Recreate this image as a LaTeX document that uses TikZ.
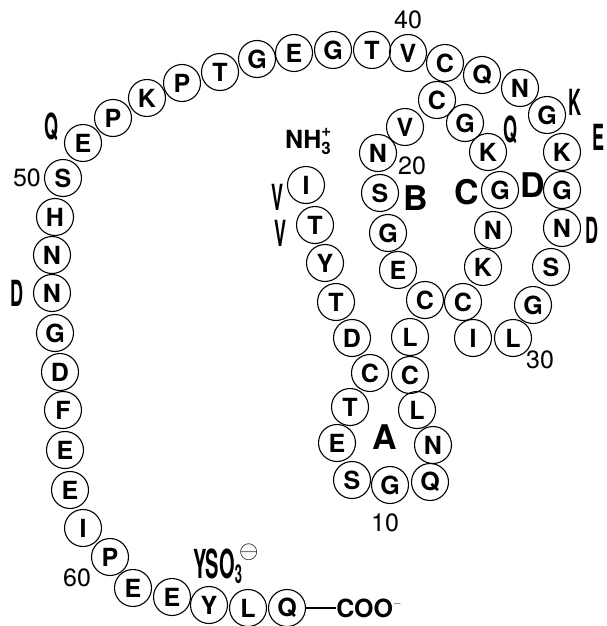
\documentclass[tikz,border=0pt]{standalone}
\usepackage{fontspec}
\setmainfont{TeX Gyre Heros}
\usepackage{graphicx}
\usepackage{tikz}
\usetikzlibrary{positioning}
\newcommand{\condensed}[1]{\scalebox{0.5}[1]{#1}}

\begin{document}
\begin{tikzpicture}[
  x=1pt, y=-1pt,
  res/.style={draw, circle, line width=1.1pt, minimum size=37pt, inner sep=0pt,
              font=\fontsize{25}{25}\selectfont\bfseries},
  num/.style={font=\fontsize{25}{25}\selectfont, inner sep=0pt},
  loopname/.style={font=\fontsize{34}{34}\selectfont\bfseries, inner sep=0pt},
  variant/.style={font=\fontsize{36}{36}\selectfont\bfseries, inner sep=0pt},
  term/.style={font=\fontsize{25}{25}\selectfont\bfseries, inner sep=0pt},
  bond/.style={line width=1.1pt}
]
\useasboundingbox (0,0) rectangle (607,626);

% loop A
\node[res] (i1) at (306,185) {I};
\node[res] (t2) at (315,225) {T};
\node[res] (y3) at (325,263) {Y};
\node[res] (t4) at (336,302) {T};
\node[res] (d5) at (352,338) {D};
\node[res] (c6) at (370,373) {C};
\node[res] (t7) at (350,407) {T};
\node[res] (e8) at (337,443) {E};
\node[res] (s9) at (352,480) {S};
\node[res] (g10) at (390,485) {G};
\node[res] (q11) at (430,482) {Q};
\node[res] (n12) at (433,445) {N};
\node[res] (l13) at (417,410) {L};
\node[res] (c14) at (410,375) {C};
\node[res] (l15) at (410,337) {L};
\node[res] (c16) at (425,300) {C};
% loop B
\node[res] (e17) at (398,270) {E};
\node[res] (g18) at (388,233) {G};
\node[res] (s19) at (380,193) {S};
\node[res] (n20) at (378,153) {N};
\node[res] (v21) at (405,127) {V};
\node[res] (c22) at (437,100) {C};
% loop C
\node[res] (g23) at (465,123) {G};
\node[res] (k24) at (488,152) {K};
\node[res] (g25) at (500,190) {G};
\node[res] (n26) at (493,230) {N};
\node[res] (k27) at (483,267) {K};
\node[res] (c28) at (463,302) {C};
% loop D
\node[res] (i29) at (473,338) {I};
\node[res] (l30) at (513,338) {L};
\node[res] (g31) at (533,305) {G};
\node[res] (s32) at (551,267) {S};
\node[res] (n33) at (562,228) {N};
\node[res] (g34) at (562,190) {G};
\node[res] (k35) at (562,152) {K};
\node[res] (g36) at (547,115) {G};
\node[res] (n37) at (520,88) {N};
\node[res] (q38) at (482,75) {Q};
\node[res] (c39) at (445,63) {C};
% tail
\node[res] (v40) at (408,53) {V};
\node[res] (t41) at (372,50) {T};
\node[res] (g42) at (333,50) {G};
\node[res] (e43) at (294,53) {E};
\node[res] (g44) at (257,59) {G};
\node[res] (t45) at (220,72) {T};
\node[res] (p46) at (182,83) {P};
\node[res] (k47) at (147,98) {K};
\node[res] (p48) at (113,118) {P};
\node[res] (e49) at (83,143) {E};
\node[res] (s50) at (63,178) {S};
\node[res] (h51) at (55,217) {H};
\node[res] (n52) at (52,255) {N};
\node[res] (n53) at (52,293) {N};
\node[res] (g54) at (55,333) {G};
\node[res] (d55) at (60,372) {D};
\node[res] (f56) at (63,410) {F};
\node[res] (e57) at (65,450) {E};
\node[res] (e58) at (70,490) {E};
\node[res] (i59) at (83,528) {I};
\node[res] (p60) at (110,557) {P};
\node[res] (e61) at (133,588) {E};
\node[res] (e62) at (172,597) {E};
\node[res] (y63) at (209,605) {Y};
\node[res] (l64) at (248,608) {L};
\node[res] (q65) at (287,608) {Q};

% termini
\node[term, anchor=base west] (nterm) at (285,148)
  {NH\rlap{\raisebox{-6pt}{\fontsize{17}{17}\selectfont 3}}\raisebox{12pt}{\fontsize{17}{17}\selectfont +}};
\node[term, right=30pt of q65] (cterm) {COO\raisebox{11pt}{\fontsize{11}{11}\selectfont $-$}};
\draw[bond] (q65) -- (cterm);
\node[variant, anchor=base west] (sulfo) at (193,578)
  {\condensed{\fontsize{40}{40}\selectfont YSO\raisebox{-5pt}{\fontsize{26}{26}\selectfont 3}}\hspace{-3pt}\raisebox{20pt}{\fontsize{24}{24}\selectfont$\ominus$}};

% loop names
\node[loopname] (la) at (385,437) {A};
\node[loopname] (lb) at (416,198) {B};
\node[loopname] (lc) at (467,192) {C};
\node[loopname] (ld) at (533,185) {D};

% numbering
\node[num] (no10) at (385,523) {10};
\node[num] (no20) at (412,166) {20};
\node[num] (no30) at (540,360) {30};
\node[num] (no40) at (408,20) {40};
\node[num] (no50) at (27,178) {50};
\node[num] (no60) at (77,578) {60};

% variant residues
\node[variant] (var1) at (277,197) {\condensed{V}};
\node[variant] (var2) at (280,233) {\condensed{V}};
\node[variant] (var24) at (510,130) {\condensed{Q}};
\node[variant] (var33) at (592,230) {\condensed{D}};
\node[variant] (var35) at (598,137) {\condensed{E}};
\node[variant] (var36) at (575,102) {\condensed{K}};
\node[variant] (var49) at (52,127) {\condensed{Q}};
\node[variant] (var53) at (17,293) {\condensed{D}};
\end{tikzpicture}
\end{document}
